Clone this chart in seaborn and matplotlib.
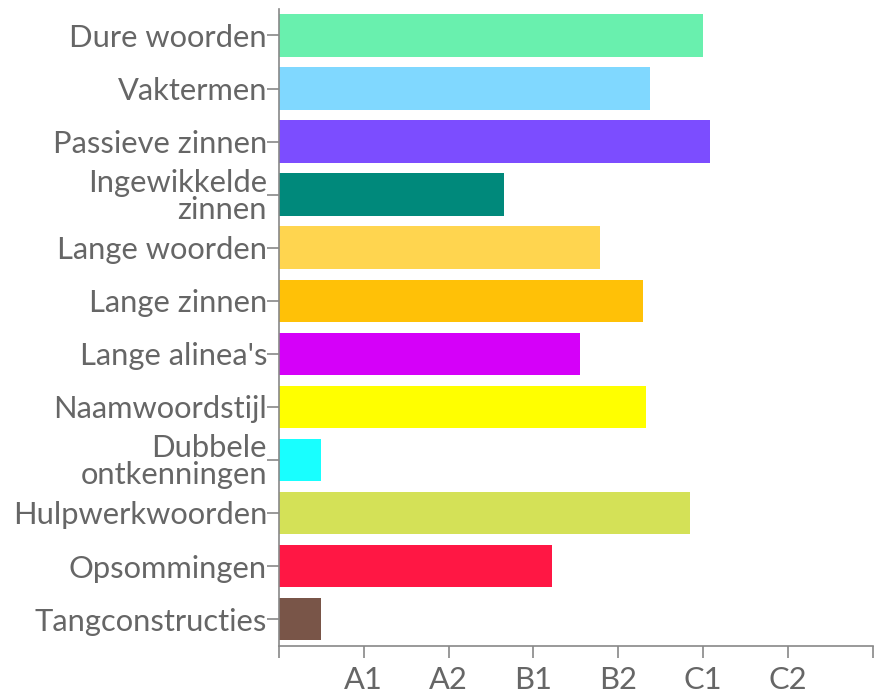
import matplotlib
matplotlib.use("Agg")
import matplotlib.pyplot as plt
import seaborn as sns

# Data
categories = [
    "Dure woorden", "Vaktermen", "Passieve zinnen", "Ingewikkelde\nzinnen",
    "Lange woorden", "Lange zinnen", "Lange alinea's", "Naamwoordstijl",
    "Dubbele\nontkenningen", "Hulpwerkwoorden", "Opsommingen", "Tangconstructies",
]
levels = [5.0, 4.38, 5.08, 2.65, 3.79, 4.29, 3.55, 4.33, 0.5, 4.85, 3.22, 0.5]
colors = [
    "#69F0AE", "#80D8FF", "#7C4DFF", "#00897B", "#FFD54F", "#FFC107",
    "#D500F9", "#FFFF00", "#18FFFF", "#D4E157", "#FF1744", "#795548",
]
tick_labels = ["", "A1", "A2", "B1", "B2", "C1", "C2", ""]

sns.set_style("white", {"xtick.bottom": True, "ytick.left": True})
plt.rcParams["font.family"] = ["Lato", "DejaVu Sans"]

text_col = "#666666"
axis_col = "#888888"

fig = plt.figure(figsize=(8.77, 6.89), dpi=100)
ax = fig.add_axes([0.318, 0.063, 0.677, 0.924])

sns.barplot(x=levels, y=categories, hue=categories, palette=colors,
            legend=False, width=0.8, saturation=1, linewidth=0, ax=ax, orient="h")

ax.set_xlim(0, 7)
ax.set_ylim(11.5, -0.5)
ax.set_xticks(range(len(tick_labels)))
ax.set_xticklabels(tick_labels)
ax.set_xlabel("")
ax.set_ylabel("")

for lab in ax.get_yticklabels():
    lab.set_linespacing(0.95)

ax.tick_params(axis="both", bottom=True, left=True, colors=axis_col,
               labelcolor=text_col, labelsize=22.2,
               length=8.5, width=1.2, pad=0, direction="out")
ax.tick_params(axis="x", pad=6)

for side in ["top", "right"]:
    ax.spines[side].set_visible(False)
for side in ["left", "bottom"]:
    ax.spines[side].set_color(axis_col)
    ax.spines[side].set_linewidth(1.2)

fig.savefig("out.png", dpi=100)
